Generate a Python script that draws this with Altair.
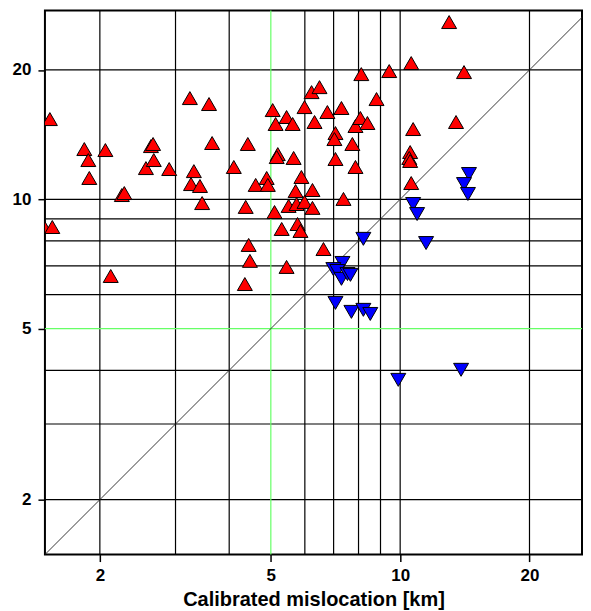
import altair as alt
import pandas as pd

# Reference (uncalibrated) vs calibrated mislocation, km
red_x = [1.485, 1.55, 1.53, 1.84, 1.88, 1.89, 2.06, 2.12, 2.25, 2.28, 2.56, 2.63, 2.66, 2.67, 2.90,
         3.24, 3.59, 3.65, 3.31, 3.26, 3.42, 3.46, 4.10, 4.42, 4.37, 4.44, 4.47, 4.35, 4.61, 4.89,
         4.92, 5.05, 5.13, 5.44, 5.62, 5.19, 5.16, 5.65, 5.10, 5.30, 5.44, 5.50, 5.71, 5.74, 5.77,
         5.86, 5.89, 5.99, 5.99, 6.22, 6.49, 6.25, 6.25, 6.32, 6.63, 6.77, 7.30, 7.38, 7.07, 7.03,
         7.74, 7.87, 7.07, 7.87, 8.08, 8.39, 8.12, 8.81, 9.43, 10.61, 13.00, 14.08, 13.49, 10.72,
         10.55, 10.50, 10.55, 10.61]
red_y = [8.62, 8.62, 15.37, 13.09, 12.34, 11.21, 13.02, 6.63, 10.23, 10.34, 11.82, 13.30, 13.45, 12.34, 11.76,
         17.20, 16.66, 13.52, 11.63, 10.85, 10.74, 9.80, 11.89, 13.45, 9.60, 7.83, 7.19, 6.35, 10.80, 11.21,
         10.80, 16.13, 14.97, 15.54, 14.97, 12.74, 12.54, 12.48, 9.34, 8.53, 6.96, 9.65, 10.45, 9.75, 8.76,
         8.44, 11.27, 16.39, 9.86, 17.76, 18.24, 10.51, 9.55, 15.13, 7.66, 15.96, 16.31, 10.02, 14.26, 13.81,
         13.45, 11.89, 12.41, 14.81, 15.46, 15.05, 19.56, 17.11, 19.88, 20.75, 25.85, 19.77, 15.13, 14.57,
         12.88, 12.48, 12.28, 10.91]

blue_x = [14.46, 14.08, 14.38, 10.72, 10.95, 8.21, 11.49, 7.34, 6.99, 7.14, 7.30, 7.54, 7.66,
          7.07, 7.70, 8.21, 8.52, 9.90, 13.86]
blue_y = [11.45, 10.85, 10.29, 9.75, 9.24, 8.09, 7.91, 7.11, 6.88, 6.81, 6.53, 6.70, 6.67,
          5.74, 5.47, 5.53, 5.41, 3.80, 4.01]

grid_vals = [2, 3, 4, 6, 7, 8, 9, 10, 20]
green_vals = [5]
tick_vals = [2, 5, 10, 20]
x_lo, x_hi = 1.49, 26.5
y_lo, y_hi = 1.49, 27.5
diag_vals = [1.49, 27.5]

red_df = pd.DataFrame({"x": red_x, "y": red_y})
blue_df = pd.DataFrame({"x": blue_x, "y": blue_y})
grid_df = pd.DataFrame({"x": grid_vals, "y": grid_vals})
green_df = pd.DataFrame({"x": green_vals, "y": green_vals})
diag_df = pd.DataFrame({"x": diag_vals, "y": diag_vals})

xs = alt.Scale(type="log", domain=[x_lo, x_hi], nice=False)
ys = alt.Scale(type="log", domain=[y_lo, y_hi], nice=False)

FONT = "Liberation Sans"

x_axis = alt.Axis(values=tick_vals, labelExpr="datum.value + ''", grid=False, domain=False,
                  tickSize=7, tickColor="black", tickWidth=1.5, labelFont=FONT, labelFontSize=17,
                  labelFontWeight="bold", labelColor="black", labelPadding=6,
                  title="Calibrated mislocation [km]", titleFont=FONT, titleFontSize=20,
                  titleFontWeight="bold", titleColor="black", titlePadding=6)
y_axis = alt.Axis(values=tick_vals, labelExpr="datum.value + ''", grid=False, domain=False,
                  tickSize=7, tickColor="black", tickWidth=1.5, labelFont=FONT, labelFontSize=17,
                  labelFontWeight="bold", labelColor="black", labelPadding=7, title=None)

X = lambda f: alt.X(f, scale=xs, axis=x_axis)
Y = lambda f: alt.Y(f, scale=ys, axis=y_axis)

vgrid = alt.Chart(grid_df).mark_rule(color="black", strokeWidth=1.2).encode(x=X("x:Q"))
hgrid = alt.Chart(grid_df).mark_rule(color="black", strokeWidth=1.2).encode(y=Y("y:Q"))
vgreen = alt.Chart(green_df).mark_rule(color="#66ff66", strokeWidth=1.2).encode(x=X("x:Q"))
hgreen = alt.Chart(green_df).mark_rule(color="#66ff66", strokeWidth=1.2).encode(y=Y("y:Q"))
diag = alt.Chart(diag_df).mark_line(color="#222222", strokeWidth=0.9, clip=True).encode(
    x=X("x:Q"), y=Y("y:Q"))
red = alt.Chart(red_df).mark_point(shape="triangle-up", filled=True, fill="#ff0000",
                                   stroke="black", strokeWidth=1, size=225, opacity=1,
                                   clip=True).encode(x=X("x:Q"), y=Y("y:Q"))
blue = alt.Chart(blue_df).mark_point(shape="triangle-down", filled=True, fill="#0000ff",
                                     stroke="black", strokeWidth=1, size=225, opacity=1,
                                     clip=True).encode(x=X("x:Q"), y=Y("y:Q"))

chart = alt.layer(vgrid, hgrid, vgreen, hgreen, diag, red, blue).properties(
    width=538, height=545,
    padding={"left": 4, "top": 1, "right": 0, "bottom": 0},
    background="white",
).configure_view(stroke="black", strokeWidth=2)

chart.save("out.html", embed_options={"renderer": "svg", "actions": False})
